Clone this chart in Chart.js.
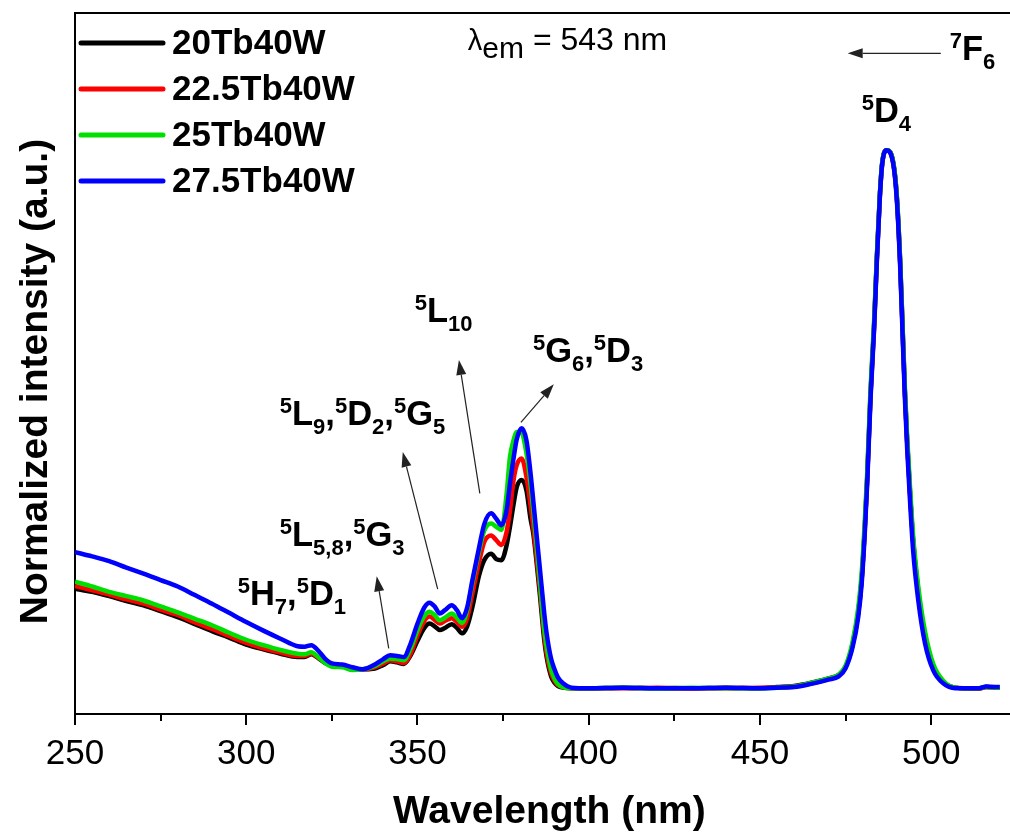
<!DOCTYPE html>
<html>
<head>
<meta charset="utf-8">
<script src="https://cdn.jsdelivr.net/npm/chart.js@4/dist/chart.umd.min.js"></script>
<style>
    html, body { margin: 0; padding: 0; background: #fff; overflow: hidden; }
</style>
</head>
<body>
<canvas id="excitationChart" width="1010" height="833"></canvas>
<script>
// excitation spectra, lambda_em = 543 nm, normalised to the 5D4 band
const wavelength = [
    250, 255, 260, 265, 270, 275, 280, 285, 290, 295,
    300, 305, 310, 315, 317, 319, 321, 323, 325, 328,
    331, 334, 337, 340, 342, 344, 346, 348, 350, 352,
    353.5, 355, 356.5, 358, 360, 361.5, 363, 364.5, 366, 368,
    369.5, 371.5, 373, 374.5, 376, 377, 378, 379, 380.4, 381.8,
    383, 383.8, 385, 385.7, 387, 387.7, 389, 390, 391, 392.5,
    395, 400, 410, 420, 430, 440, 450, 455, 460, 465,
    470, 473, 475, 477, 478.7, 479.7, 480.6, 481.3, 482.3, 483.3,
    484.1, 485, 485.7, 487, 488.9, 489.9, 490.9, 491.6, 492.3, 493,
    493.8, 494.7, 496.2, 498.2, 500.6, 503.5, 507, 510, 514, 516,
    520
];

const tb20 = [
    0.185, 0.179, 0.171, 0.162, 0.154, 0.143, 0.132, 0.119, 0.106, 0.094,
    0.081, 0.072, 0.064, 0.058, 0.058, 0.063, 0.056, 0.047, 0.043, 0.041,
    0.036, 0.035, 0.036, 0.043, 0.050, 0.048, 0.045, 0.061, 0.088, 0.112,
    0.120, 0.115, 0.108, 0.112, 0.119, 0.112, 0.102, 0.115, 0.150, 0.210,
    0.238, 0.250, 0.240, 0.238, 0.265, 0.300, 0.340, 0.374, 0.387, 0.368,
    0.315, 0.288, 0.220, 0.176, 0.090, 0.058, 0.022, 0.010, 0.004, 0.001,
    0.000, 0.000, 0.001, 0.000, 0.000, 0.001, 0.000, 0.002, 0.004, 0.010,
    0.018, 0.025, 0.040, 0.080, 0.140, 0.203, 0.296, 0.388, 0.548, 0.670,
    0.795, 0.915, 0.976, 1.000, 0.977, 0.918, 0.796, 0.675, 0.552, 0.455,
    0.365, 0.275, 0.180, 0.097, 0.040, 0.012, 0.001, 0.000, 0.000, 0.002,
    0.001
];

const tb225 = [
    0.190, 0.182, 0.174, 0.165, 0.157, 0.146, 0.136, 0.122, 0.110, 0.097,
    0.084, 0.074, 0.066, 0.060, 0.060, 0.064, 0.057, 0.048, 0.043, 0.041,
    0.036, 0.035, 0.038, 0.046, 0.052, 0.050, 0.047, 0.064, 0.098, 0.125,
    0.133, 0.127, 0.120, 0.125, 0.130, 0.123, 0.114, 0.130, 0.175, 0.235,
    0.272, 0.284, 0.275, 0.266, 0.290, 0.330, 0.385, 0.415, 0.427, 0.393,
    0.340, 0.300, 0.230, 0.188, 0.100, 0.065, 0.028, 0.014, 0.006, 0.002,
    0.000, 0.000, 0.000, 0.001, 0.000, 0.000, 0.001, 0.001, 0.003, 0.009,
    0.017, 0.024, 0.040, 0.080, 0.142, 0.205, 0.298, 0.390, 0.550, 0.672,
    0.795, 0.915, 0.976, 1.000, 0.977, 0.918, 0.796, 0.675, 0.552, 0.455,
    0.365, 0.275, 0.180, 0.097, 0.040, 0.012, 0.001, 0.000, -0.001, 0.002,
    0.001
];

const tb25 = [
    0.198, 0.189, 0.179, 0.171, 0.163, 0.152, 0.141, 0.129, 0.117, 0.103,
    0.090, 0.080, 0.071, 0.064, 0.063, 0.067, 0.058, 0.047, 0.040, 0.039,
    0.034, 0.035, 0.040, 0.050, 0.055, 0.054, 0.052, 0.074, 0.108, 0.134,
    0.142, 0.136, 0.126, 0.131, 0.139, 0.131, 0.121, 0.145, 0.195, 0.255,
    0.293, 0.306, 0.300, 0.294, 0.360, 0.430, 0.460, 0.476, 0.474, 0.437,
    0.380, 0.331, 0.250, 0.201, 0.110, 0.077, 0.035, 0.018, 0.008, 0.002,
    0.000, 0.000, 0.001, 0.000, 0.001, 0.000, 0.000, 0.001, 0.003, 0.010,
    0.018, 0.025, 0.042, 0.085, 0.150, 0.215, 0.310, 0.400, 0.560, 0.680,
    0.800, 0.918, 0.978, 1.000, 0.978, 0.920, 0.800, 0.680, 0.560, 0.465,
    0.375, 0.285, 0.190, 0.105, 0.045, 0.014, 0.001, 0.000, 0.000, 0.002,
    0.001
];

const tb275 = [
    0.253, 0.245, 0.236, 0.224, 0.213, 0.201, 0.189, 0.173, 0.157, 0.140,
    0.123, 0.107, 0.092, 0.078, 0.077, 0.080, 0.070, 0.055, 0.046, 0.044,
    0.039, 0.035, 0.042, 0.054, 0.061, 0.060, 0.058, 0.083, 0.120, 0.150,
    0.159, 0.152, 0.139, 0.145, 0.154, 0.145, 0.130, 0.150, 0.200, 0.262,
    0.305, 0.325, 0.315, 0.303, 0.330, 0.380, 0.425, 0.463, 0.483, 0.461,
    0.400, 0.349, 0.270, 0.225, 0.140, 0.102, 0.055, 0.035, 0.020, 0.009,
    0.001, 0.000, 0.001, 0.000, 0.000, 0.001, 0.000, 0.001, 0.002, 0.008,
    0.016, 0.022, 0.037, 0.075, 0.133, 0.195, 0.288, 0.380, 0.541, 0.665,
    0.789, 0.913, 0.975, 1.000, 0.975, 0.913, 0.789, 0.665, 0.541, 0.442,
    0.349, 0.257, 0.164, 0.083, 0.033, 0.009, 0.000, 0.000, 0.000, 0.003,
    0.002
];

const seriesNames = ['20Tb40W', '22.5Tb40W', '25Tb40W', '27.5Tb40W'];
const seriesColors = ['#000000', '#ff0000', '#00e000', '#0000ff'];
const seriesValues = [tb20, tb225, tb25, tb275];

const xMin = 250, xMax = 523, yMin = -0.048, yMax = 1.255;

// transition labels, anchored at [wavelength, intensity] (left, baseline)
const transitions = [
    { at: [297.5, 0.154], parts: [['5', 'sup'], ['H', ''], ['7', 'sub'], [',', ''], ['5', 'sup'], ['D', ''], ['1', 'sub']] },
    { at: [309.8, 0.264], parts: [['5', 'sup'], ['L', ''], ['5,8', 'sub'], [',', ''], ['5', 'sup'], ['G', ''], ['3', 'sub']] },
    { at: [309.8, 0.489], parts: [['5', 'sup'], ['L', ''], ['9', 'sub'], [',', ''], ['5', 'sup'], ['D', ''], ['2', 'sub'], [',', ''], ['5', 'sup'], ['G', ''], ['5', 'sub']] },
    { at: [349.2, 0.680], parts: [['5', 'sup'], ['L', ''], ['10', 'sub']] },
    { at: [383.7, 0.606], parts: [['5', 'sup'], ['G', ''], ['6', 'sub'], [',', ''], ['5', 'sup'], ['D', ''], ['3', 'sub']] },
    { at: [479.7, 1.052], parts: [['5', 'sup'], ['D', ''], ['4', 'sub']] },
    { at: [505.4, 1.167], parts: [['7', 'sup'], ['F', ''], ['6', 'sub']] }
];

// arrows: [fromWavelength, fromIntensity, tipWavelength, tipIntensity]
const arrows = [
    [341.6, 0.074, 338.1, 0.208],
    [355.9, 0.184, 345.7, 0.439],
    [368.2, 0.362, 362.1, 0.610],
    [380.2, 0.494, 389.8, 0.565],
    [502.8, 1.180, 475.6, 1.180]
];

const FONT = '"Liberation Sans", Arial, Helvetica, sans-serif';

function drawRich(ctx, x, y, parts, size, weight) {
    let cx = x;
    parts.forEach(([t, kind]) => {
        const fs = kind ? Math.round(size * 0.65) : size;
        ctx.font = `${weight} ${fs}px ${FONT}`;
        const dy = kind === 'sup' ? -size * 0.36 : kind === 'sub' ? size * 0.25 : 0;
        ctx.fillText(t, cx, y + dy);
        cx += ctx.measureText(t).width;
    });
}

const decorations = {
    id: 'decorations',
    afterDatasetsDraw(chart) {
        const { ctx, chartArea: a, scales: { x, y } } = chart;
        ctx.save();

        // top frame line (right side of the box lies outside the picture)
        ctx.strokeStyle = '#000';
        ctx.lineWidth = 2;
        ctx.beginPath();
        ctx.moveTo(a.left, a.top);
        ctx.lineTo(chart.width, a.top);
        ctx.stroke();

        // major / minor x ticks
        for (let v = xMin; v <= xMax; v += 25) {
            const px = Math.round(x.getPixelForValue(v));
            const len = v % 50 === 0 ? 11 : 7;
            ctx.beginPath();
            ctx.moveTo(px, a.bottom);
            ctx.lineTo(px, a.bottom + len);
            ctx.stroke();
        }

        // axis titles
        ctx.fillStyle = '#000';
        ctx.font = `bold 39px ${FONT}`;
        ctx.textAlign = 'center';
        ctx.textBaseline = 'alphabetic';
        ctx.fillText('Wavelength (nm)', x.getPixelForValue(388.5), 823);
        ctx.save();
        ctx.translate(47, y.getPixelForValue(0.57));
        ctx.rotate(-Math.PI / 2);
        ctx.fillText('Normalized intensity (a.u.)', 0, 0);
        ctx.restore();

        // arrows
        ctx.strokeStyle = '#222';
        ctx.fillStyle = '#222';
        ctx.lineWidth = 1.2;
        arrows.forEach(([x0, y0, x1, y1]) => {
            const p0 = [x.getPixelForValue(x0), y.getPixelForValue(y0)];
            const p1 = [x.getPixelForValue(x1), y.getPixelForValue(y1)];
            const ang = Math.atan2(p1[1] - p0[1], p1[0] - p0[0]);
            const hl = 15, hw = 5;
            const bx = p1[0] - hl * Math.cos(ang), by = p1[1] - hl * Math.sin(ang);
            ctx.beginPath();
            ctx.moveTo(p0[0], p0[1]);
            ctx.lineTo(bx, by);
            ctx.stroke();
            ctx.beginPath();
            ctx.moveTo(p1[0], p1[1]);
            ctx.lineTo(bx + hw * Math.sin(ang), by - hw * Math.cos(ang));
            ctx.lineTo(bx - hw * Math.sin(ang), by + hw * Math.cos(ang));
            ctx.closePath();
            ctx.fill();
        });

        // transition labels
        ctx.fillStyle = '#000';
        ctx.textAlign = 'left';
        ctx.textBaseline = 'alphabetic';
        transitions.forEach(t => {
            drawRich(ctx, x.getPixelForValue(t.at[0]), y.getPixelForValue(t.at[1]), t.parts, 34.5, 'bold');
        });

        // excitation note
        let lx = x.getPixelForValue(364.7);
        const ly = y.getPixelForValue(1.186);
        ctx.font = `29px ${FONT}`;
        ctx.fillText('λ', lx, ly);
        lx += ctx.measureText('λ').width;
        ctx.font = `30px ${FONT}`;
        ctx.fillText('em', lx, ly + 8);
        lx += ctx.measureText('em').width;
        ctx.font = `32px ${FONT}`;
        ctx.fillText(' = 543 nm', lx, ly);

        // legend
        chart.data.datasets.forEach((ds, i) => {
            const ly2 = a.top + 30 + i * 46;
            ctx.strokeStyle = ds.borderColor;
            ctx.lineWidth = 5;
            ctx.lineCap = 'round';
            ctx.beginPath();
            ctx.moveTo(a.left + 6, ly2);
            ctx.lineTo(a.left + 88, ly2);
            ctx.stroke();
            ctx.fillStyle = '#000';
            ctx.font = `bold 35px ${FONT}`;
            ctx.textBaseline = 'middle';
            ctx.fillText(ds.label, a.left + 97, ly2 + 1);
        });

        ctx.restore();
    }
};

const datasets = seriesNames.map((name, i) => ({
    label: name,
    data: wavelength.map((w, j) => ({ x: w, y: seriesValues[i][j] })),
    borderColor: seriesColors[i],
    backgroundColor: seriesColors[i],
    borderWidth: 4.5,
    pointRadius: 0,
    fill: false,
    cubicInterpolationMode: 'monotone',
    borderJoinStyle: 'round',
    order: 4 - i
}));

new Chart(document.getElementById('excitationChart').getContext('2d'), {
    type: 'line',
    data: { datasets: datasets },
    options: {
        responsive: false,
        animation: false,
        devicePixelRatio: 1,
        layout: { padding: { top: 13, right: 0, left: 0, bottom: 0 } },
        plugins: {
            legend: { display: false },
            tooltip: { enabled: false }
        },
        scales: {
            x: {
                type: 'linear',
                min: xMin,
                max: xMax,
                afterFit: s => { s.height = 119; s.paddingRight = 0; },
                grid: { display: false, drawTicks: false },
                border: { display: true, color: '#000', width: 2 },
                ticks: {
                    stepSize: 25,
                    includeBounds: false,
                    padding: 19,
                    maxRotation: 0,
                    autoSkip: false,
                    color: '#000',
                    font: { family: FONT, size: 35 },
                    callback: v => (v % 50 === 0 ? v : '')
                }
            },
            y: {
                min: yMin,
                max: yMax,
                afterFit: s => { s.width = 75; },
                grid: { display: false, drawTicks: false },
                border: { display: true, color: '#000', width: 2 },
                ticks: { display: false }
            }
        }
    },
    plugins: [decorations]
});
</script>
</body>
</html>
